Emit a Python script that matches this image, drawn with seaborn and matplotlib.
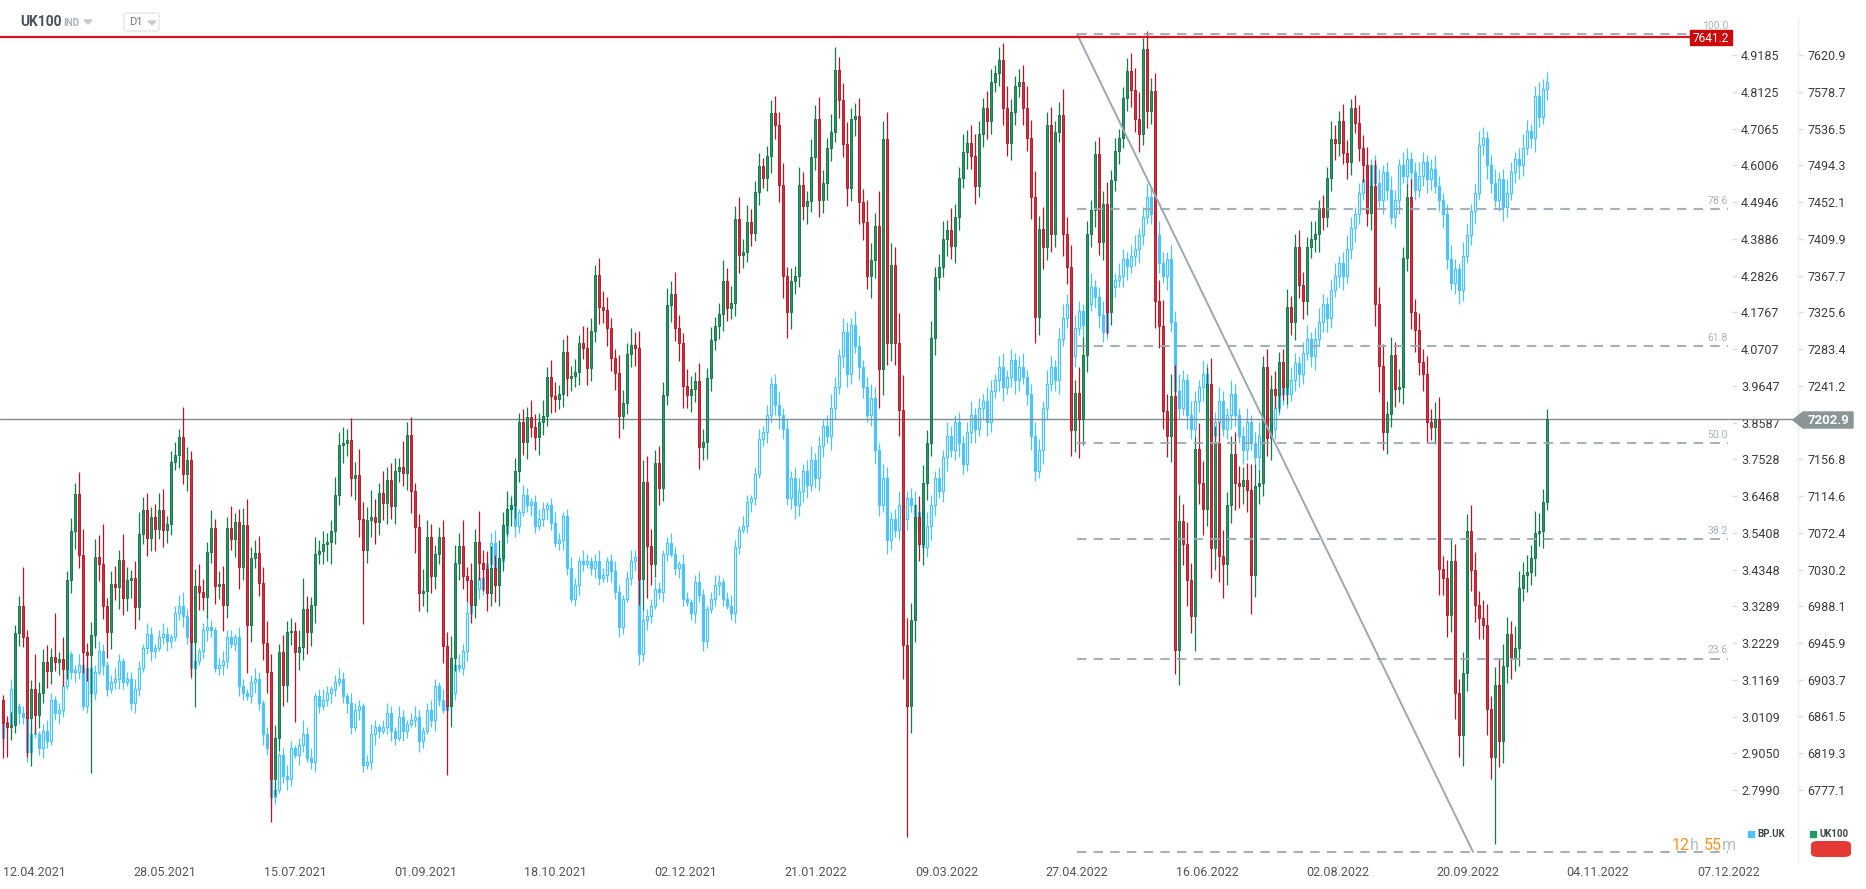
import numpy as np
import pandas as pd
import matplotlib
matplotlib.use("Agg")
import matplotlib.pyplot as plt
import seaborn as sns
from matplotlib.patches import Polygon, Rectangle, FancyBboxPatch

sns.set_theme(style="white")
plt.rcParams["font.family"] = ["Roboto", "DejaVu Sans"]

W, H = 1866, 889

# ---- data (daily candles, open = previous close) ----
uk_first_open = 6881
uk_close = [
    6854, 6850, 6852, 6957, 6988, 6953, 6860, 6893, 6863, 6889,
    6924, 6914, 6930, 6924, 6928, 6916, 7018, 7074, 7117, 7047,
    6936, 6932, 6955, 7045, 7037, 6988, 6959, 7014, 7010, 7041,
    6998, 7018, 7020, 6987, 7071, 7098, 7066, 7090, 7077, 7098,
    7076, 7082, 7154, 7162, 7182, 7140, 7156, 6947, 7011, 7004,
    6999, 7050, 7078, 7011, 7014, 6990, 7078, 7065, 7085, 7033,
    7081, 6967, 7044, 7049, 7015, 6946, 6913, 6790, 6837, 6935,
    6898, 6959, 6960, 6935, 6941, 6985, 6958, 6989, 7048, 7052,
    7060, 7062, 7075, 7116, 7173, 7176, 7179, 7135, 7139, 7088,
    7053, 7087, 7091, 7085, 7118, 7107, 7133, 7103, 7143, 7148,
    7141, 7185, 7120, 7079, 7003, 7006, 7067, 7023, 7048, 7067,
    6943, 6874, 6929, 7038, 7057, 7023, 7018, 6989, 7062, 7038,
    7031, 7003, 7032, 7013, 7044, 7081, 7100, 7104, 7143, 7200,
    7177, 7205, 7194, 7182, 7200, 7207, 7251, 7230, 7226, 7232,
    7280, 7250, 7252, 7257, 7290, 7284, 7262, 7304, 7368, 7332,
    7328, 7307, 7273, 7256, 7206, 7221, 7278, 7288, 7284, 7019,
    7131, 7057, 7037, 7152, 7124, 7231, 7334, 7347, 7308, 7290,
    7241, 7231, 7237, 7247, 7171, 7177, 7250, 7294, 7310, 7324,
    7361, 7330, 7336, 7433, 7391, 7395, 7429, 7417, 7464, 7493,
    7480, 7505, 7554, 7540, 7472, 7367, 7326, 7361, 7367, 7472,
    7447, 7453, 7504, 7548, 7455, 7474, 7514, 7533, 7604, 7569,
    7519, 7468, 7548, 7551, 7452, 7429, 7367, 7385, 7425, 7261,
    7525, 7290, 7380, 7290, 7213, 6944, 6873, 6972, 7090, 7060,
    7130, 7175, 7296, 7366, 7378, 7410, 7420, 7402, 7435, 7480,
    7510, 7520, 7505, 7470, 7530, 7560, 7545, 7590, 7600, 7615,
    7560, 7520, 7555, 7585, 7590, 7560, 7526, 7458, 7320, 7421,
    7400, 7541, 7415, 7533, 7552, 7415, 7378, 7190, 7233, 7203,
    7277, 7415, 7443, 7507, 7406, 7450, 7326, 7477, 7511, 7526,
    7572, 7603, 7581, 7548, 7530, 7628, 7557, 7580, 7338, 7310,
    7212, 7184, 7230, 6938, 7086, 7060, 7018, 6977, 7169, 7130,
    7100, 7243, 7055, 7175, 7046, 7037, 7104, 7163, 7129, 7126,
    7133, 7121, 7024, 7126, 7130, 7263, 7181, 7238, 7231, 7268,
    7240, 7332, 7314, 7400, 7357, 7338, 7400, 7410, 7415, 7445,
    7435, 7480, 7525, 7520, 7545, 7508, 7498, 7560, 7543, 7514,
    7495, 7440, 7470, 7335, 7264, 7188, 7209, 7277, 7237, 7240,
    7388, 7458, 7326, 7305, 7268, 7255, 7200, 7194, 7203, 7031,
    7021, 6978, 7040, 6889, 6840, 6911, 7074, 7030, 6990, 6975,
    6966, 6870, 6815, 6898, 6833, 6920, 6956, 6929, 6940, 7009,
    7024, 7027, 7043, 7072, 7075, 7108, 7202.9,
]
# wick lengths beyond the body, in index points
uk_wick_up = [
    5, 8, 15, 10, 12, 45, 8, 10, 40, 12, 15, 20, 10, 50, 8, 25, 10, 15, 12, 25,
    30, 10, 15, 20, 25, 45, 10, 15, 20, 12, 30, 15, 10, 20, 25, 15, 20, 12, 15, 20,
    25, 10, 12, 15, 10, 35, 15, 10, 20, 25, 15, 12, 20, 10, 15, 20, 12, 25, 10, 15,
    20, 30, 12, 15, 20, 18, 25, 20, 15, 10, 20, 12, 15, 10, 20, 35, 15, 10, 20, 12,
    15, 10, 12, 20, 15, 18, 12, 25, 15, 30, 20, 15, 30, 20, 12, 25, 15, 20, 15, 10,
    30, 15, 20, 10, 15, 25, 20, 15, 10, 12, 20, 15, 25, 20, 15, 30, 10, 20, 15, 35,
    15, 20, 25, 15, 20, 15, 20, 10, 15, 10, 15, 12, 20, 15, 10, 18, 12, 20, 15, 10,
    15, 20, 12, 15, 10, 20, 25, 15, 12, 20, 18, 15, 12, 10, 20, 15, 12, 20, 15, 20,
    25, 30, 20, 15, 20, 15, 20, 15, 25, 15, 12, 20, 15, 10, 20, 15, 12, 15, 10, 12,
    25, 15, 20, 15, 25, 15, 20, 15, 12, 15, 10, 12, 15, 20, 15, 25, 10, 15, 12, 20,
    15, 12, 20, 15, 25, 15, 12, 20, 26, 15, 20, 25, 12, 15, 20, 15, 25, 20, 15, 40,
    20, 30, 25, 20, 35, 40, 30, 20, 15, 25, 20, 15, 20, 12, 15, 20, 12, 25, 15, 12,
    20, 15, 20, 25, 15, 12, 20, 15, 10, 15, 20, 25, 15, 12, 15, 20, 25, 20, 30, 15,
    25, 15, 20, 12, 15, 30, 20, 25, 15, 30, 20, 15, 12, 15, 20, 15, 25, 12, 15, 10,
    12, 15, 20, 25, 30, 13, 20, 15, 20, 25, 30, 20, 25, 35, 30, 20, 25, 20, 15, 30,
    25, 20, 30, 20, 25, 30, 15, 20, 25, 20, 15, 20, 30, 25, 15, 12, 20, 15, 20, 12,
    15, 20, 12, 15, 20, 15, 12, 20, 15, 10, 15, 12, 20, 15, 12, 20, 15, 10, 15, 20,
    15, 20, 25, 30, 20, 25, 15, 20, 15, 20, 12, 15, 20, 15, 20, 15, 20, 15, 20, 25,
    15, 20, 25, 20, 15, 25, 20, 30, 20, 15, 20, 25, 15, 20, 30, 25, 20, 15, 25, 20,
    15, 20, 15, 25, 20, 15, 12,
]
uk_wick_dn = [
    40, 35, 15, 10, 15, 12, 45, 55, 20, 15, 12, 20, 15, 10, 15, 20, 12, 15, 20, 15,
    25, 30, 135, 15, 20, 15, 30, 20, 15, 25, 20, 15, 20, 25, 15, 12, 20, 15, 25, 12,
    20, 15, 12, 10, 15, 12, 20, 40, 75, 20, 15, 25, 12, 20, 15, 30, 15, 12, 20, 25,
    15, 55, 20, 12, 15, 20, 25, 50, 20, 15, 25, 20, 15, 80, 20, 15, 25, 15, 20, 12,
    15, 20, 25, 15, 12, 20, 15, 20, 25, 20, 85, 15, 20, 25, 15, 20, 25, 15, 20, 12,
    15, 20, 25, 30, 20, 15, 25, 20, 15, 12, 20, 80, 25, 15, 20, 15, 25, 20, 15, 20,
    25, 20, 15, 20, 25, 15, 12, 20, 15, 12, 15, 20, 12, 15, 20, 15, 12, 20, 15, 12,
    15, 20, 15, 12, 15, 12, 20, 15, 12, 20, 15, 20, 15, 20, 25, 15, 12, 15, 20, 30,
    35, 60, 25, 15, 20, 15, 12, 20, 15, 20, 25, 15, 20, 15, 25, 15, 20, 15, 12, 15,
    20, 15, 12, 15, 20, 15, 12, 15, 10, 15, 12, 15, 20, 15, 20, 25, 30, 20, 15, 12,
    15, 20, 12, 15, 20, 15, 20, 15, 12, 20, 15, 20, 15, 20, 25, 20, 15, 25, 20, 45,
    30, 25, 20, 25, 30, 40, 150, 30, 25, 20, 25, 20, 15, 20, 15, 12, 20, 15, 20, 15,
    12, 20, 15, 20, 12, 15, 20, 15, 12, 15, 20, 15, 20, 15, 12, 20, 15, 25, 30, 20,
    25, 15, 20, 15, 12, 25, 20, 30, 25, 45, 30, 20, 15, 20, 15, 20, 25, 15, 12, 15,
    12, 15, 20, 15, 20, 12, 20, 15, 30, 25, 20, 25, 30, 28, 40, 25, 30, 20, 40, 25,
    30, 20, 35, 25, 30, 40, 25, 20, 30, 25, 20, 25, 45, 25, 20, 15, 20, 25, 15, 20,
    15, 20, 15, 20, 15, 20, 15, 12, 15, 20, 15, 12, 15, 20, 15, 12, 20, 15, 12, 15,
    20, 15, 20, 25, 30, 20, 25, 15, 20, 15, 20, 15, 20, 25, 15, 20, 25, 15, 20, 30,
    20, 25, 20, 30, 25, 35, 20, 25, 20, 25, 15, 30, 25, 100, 30, 25, 20, 25, 15, 20,
    15, 20, 15, 20, 15, 20, 10,
]

bp_first_open = 2.95
bp_close = [
    2.99, 2.99, 3.09, 3.04, 3.02, 3.01, 2.91, 2.96, 2.96, 2.92,
    2.97, 2.94, 3.06, 3.02, 3.03, 3.10, 3.19, 3.14, 3.14, 3.16,
    3.04, 3.15, 3.08, 3.14, 3.20, 3.16, 3.09, 3.11, 3.12, 3.17,
    3.11, 3.12, 3.05, 3.09, 3.15, 3.21, 3.25, 3.20, 3.21, 3.24,
    3.25, 3.23, 3.24, 3.31, 3.33, 3.30, 3.24, 3.15, 3.17, 3.20,
    3.26, 3.27, 3.26, 3.15, 3.16, 3.17, 3.24, 3.22, 3.24, 3.10,
    3.08, 3.07, 3.11, 3.12, 3.05, 2.96, 2.92, 2.78, 2.80, 2.90,
    2.84, 2.83, 2.92, 2.90, 2.93, 2.96, 2.89, 2.88, 3.07, 3.04,
    3.06, 3.08, 3.09, 3.11, 3.12, 3.07, 3.05, 2.98, 3.03, 3.04,
    2.87, 2.88, 2.96, 2.98, 2.97, 2.98, 3.02, 2.97, 2.95, 3.01,
    2.97, 2.99, 3.00, 3.01, 2.94, 2.97, 3.03, 3.00, 3.10, 3.06,
    3.03, 3.05, 3.08, 3.16, 3.15, 3.20, 3.31, 3.37, 3.38, 3.41,
    3.38, 3.45, 3.51, 3.43, 3.46, 3.54, 3.61, 3.62, 3.56, 3.60,
    3.65, 3.62, 3.63, 3.56, 3.58, 3.61, 3.62, 3.57, 3.51, 3.52,
    3.59, 3.44, 3.35, 3.39, 3.46, 3.45, 3.46, 3.44, 3.46, 3.41,
    3.42, 3.46, 3.43, 3.37, 3.27, 3.35, 3.41, 3.46, 3.47, 3.19,
    3.29, 3.30, 3.33, 3.38, 3.37, 3.48, 3.51, 3.48, 3.44, 3.45,
    3.35, 3.34, 3.31, 3.40, 3.36, 3.23, 3.32, 3.35, 3.39, 3.40,
    3.35, 3.33, 3.31, 3.50, 3.55, 3.56, 3.63, 3.64, 3.71, 3.81,
    3.83, 3.88, 3.97, 3.91, 3.88, 3.84, 3.64, 3.70, 3.62, 3.66,
    3.72, 3.68, 3.75, 3.70, 3.79, 3.85, 3.82, 3.90, 3.96, 4.05,
    4.12, 4.00, 4.14, 4.08, 4.02, 3.96, 3.88, 3.93, 3.78, 3.62,
    3.70, 3.52, 3.58, 3.55, 3.62, 3.58, 3.64, 3.62, 3.55, 3.60,
    3.50, 3.56, 3.62, 3.70, 3.66, 3.76, 3.82, 3.78, 3.86, 3.80,
    3.74, 3.83, 3.88, 3.84, 3.90, 3.92, 3.86, 3.95, 3.98, 4.02,
    3.96, 3.99, 4.04, 3.98, 4.02, 3.99, 3.94, 3.82, 3.72, 3.78,
    3.90, 3.97, 4.02, 3.98, 4.10, 4.16, 4.20, 4.05, 4.13, 4.18,
    4.14, 4.20, 4.25, 4.22, 4.17, 4.12, 4.22, 4.25, 4.27, 4.28,
    4.33, 4.31, 4.34, 4.36, 4.40, 4.45, 4.51, 4.46, 4.40, 4.32,
    4.28, 4.33, 4.15, 3.95, 3.90, 3.98, 3.88, 3.84, 3.92, 3.96,
    4.00, 3.88, 3.82, 3.86, 3.92, 3.84, 3.88, 3.94, 3.88, 3.82,
    3.78, 3.86, 3.80, 3.76, 3.82, 3.88, 3.86, 3.84, 3.90, 3.94,
    3.98, 3.94, 3.98, 4.03, 4.00, 4.06, 4.10, 4.05, 4.10, 4.15,
    4.20, 4.16, 4.24, 4.28, 4.32, 4.28, 4.36, 4.42, 4.46, 4.52,
    4.56, 4.50, 4.60, 4.55, 4.50, 4.58, 4.53, 4.45, 4.50, 4.60,
    4.57, 4.62, 4.58, 4.53, 4.57, 4.61, 4.56, 4.59, 4.54, 4.50,
    4.46, 4.33, 4.26, 4.30, 4.24, 4.34, 4.40, 4.47, 4.52, 4.66,
    4.68, 4.60, 4.55, 4.50, 4.56, 4.48, 4.52, 4.58, 4.62, 4.60,
    4.65, 4.70, 4.68, 4.80, 4.74, 4.82, 4.84,
]
# wick lengths in pence
bp_wick_up = [
    2, 1, 3, 2, 1, 2, 1, 3, 2, 1, 2, 3, 2, 1, 2, 3, 2, 1, 2, 3,
    2, 3, 1, 2, 3, 2, 1, 2, 3, 2, 1, 2, 2, 3, 2, 1, 3, 2, 1, 2,
    3, 2, 1, 2, 3, 4, 2, 3, 2, 1, 2, 3, 2, 1, 2, 3, 2, 2, 1, 3,
    2, 1, 2, 3, 2, 1, 2, 3, 2, 1, 2, 3, 2, 1, 2, 4, 2, 3, 1, 2,
    3, 2, 1, 2, 3, 2, 1, 3, 2, 2, 1, 2, 3, 2, 1, 2, 3, 2, 1, 3,
    2, 1, 2, 3, 2, 1, 2, 3, 2, 1, 3, 2, 1, 2, 3, 2, 3, 2, 4, 2,
    3, 2, 3, 4, 2, 3, 2, 3, 2, 1, 3, 2, 1, 2, 3, 2, 1, 2, 3, 2,
    1, 2, 3, 2, 1, 3, 2, 1, 2, 3, 2, 1, 2, 3, 2, 1, 2, 3, 2, 2,
    3, 2, 2, 3, 2, 1, 2, 3, 2, 1, 3, 2, 1, 2, 3, 2, 1, 2, 3, 2,
    1, 2, 3, 2, 1, 3, 2, 1, 2, 3, 2, 3, 2, 3, 4, 2, 3, 2, 3, 4,
    2, 3, 4, 2, 3, 2, 3, 4, 3, 2, 4, 3, 2, 4, 3, 2, 3, 4, 3, 2,
    4, 3, 2, 3, 4, 3, 2, 3, 4, 2, 3, 4, 3, 2, 3, 2, 4, 3, 2, 3,
    2, 3, 4, 2, 3, 2, 4, 3, 2, 3, 4, 2, 3, 2, 3, 4, 2, 3, 4, 3,
    2, 4, 3, 2, 3, 4, 3, 2, 4, 3, 2, 3, 4, 2, 3, 4, 2, 3, 2, 4,
    3, 2, 3, 4, 2, 3, 4, 3, 2, 4, 3, 2, 4, 3, 5, 3, 2, 4, 3, 2,
    4, 3, 2, 3, 4, 3, 2, 4, 3, 2, 3, 4, 2, 3, 4, 3, 2, 3, 4, 2,
    3, 2, 4, 3, 2, 3, 4, 2, 3, 4, 3, 2, 3, 4, 2, 3, 4, 3, 2, 3,
    4, 3, 2, 3, 4, 2, 3, 4, 3, 2, 4, 3, 2, 3, 4, 3, 2, 3, 4, 3,
    2, 3, 4, 3, 2, 4, 3, 2, 3, 4, 3, 2, 3, 4, 2, 3, 4, 3, 2, 3,
    4, 3, 2, 3, 4, 3, 3,
]
bp_wick_dn = [
    3, 2, 1, 2, 3, 2, 3, 2, 1, 2, 3, 2, 1, 2, 3, 2, 1, 2, 3, 2,
    1, 2, 3, 2, 1, 3, 2, 1, 2, 3, 2, 1, 2, 3, 2, 1, 2, 3, 2, 1,
    2, 3, 2, 1, 2, 3, 2, 3, 2, 1, 2, 3, 2, 1, 2, 3, 2, 1, 2, 3,
    2, 1, 2, 3, 2, 3, 2, 3, 2, 1, 2, 3, 2, 1, 3, 2, 1, 2, 3, 2,
    1, 2, 3, 2, 1, 2, 3, 2, 1, 3, 2, 1, 2, 3, 2, 1, 2, 3, 2, 1,
    3, 2, 1, 2, 3, 2, 1, 2, 3, 2, 1, 2, 3, 2, 1, 2, 3, 2, 2, 3,
    2, 3, 2, 3, 4, 2, 3, 2, 3, 2, 1, 2, 3, 2, 1, 2, 3, 2, 1, 2,
    3, 2, 1, 2, 3, 2, 1, 2, 3, 2, 1, 2, 3, 2, 3, 2, 1, 2, 3, 3,
    2, 3, 2, 1, 2, 3, 2, 1, 2, 3, 2, 1, 2, 3, 2, 3, 2, 1, 2, 3,
    2, 1, 2, 3, 2, 1, 2, 3, 2, 1, 2, 3, 2, 3, 4, 3, 2, 3, 4, 3,
    3, 4, 2, 3, 4, 3, 2, 4, 3, 2, 3, 4, 3, 2, 4, 3, 2, 3, 4, 3,
    2, 4, 3, 2, 3, 4, 3, 2, 3, 4, 2, 3, 4, 3, 2, 3, 4, 2, 3, 4,
    3, 2, 3, 4, 2, 3, 4, 3, 2, 3, 4, 2, 3, 4, 3, 2, 3, 4, 3, 2,
    4, 3, 2, 3, 4, 2, 3, 4, 3, 2, 4, 3, 2, 3, 4, 3, 2, 4, 3, 2,
    3, 4, 2, 3, 4, 3, 2, 3, 4, 3, 2, 4, 3, 5, 3, 2, 4, 3, 2, 3,
    4, 3, 2, 3, 4, 2, 3, 4, 3, 2, 4, 3, 2, 3, 4, 3, 2, 4, 3, 2,
    3, 4, 2, 3, 4, 3, 2, 3, 4, 2, 3, 4, 3, 2, 3, 4, 2, 3, 4, 3,
    2, 3, 4, 3, 2, 4, 3, 2, 3, 4, 2, 3, 4, 3, 2, 3, 4, 3, 2, 3,
    4, 3, 2, 3, 4, 3, 2, 3, 4, 2, 3, 4, 3, 2, 3, 4, 3, 2, 3, 4,
    3, 2, 3, 4, 3, 2, 3,
]

date_labels = ["12.04.2021", "28.05.2021", "15.07.2021", "01.09.2021", "18.10.2021",
               "02.12.2021", "21.01.2022", "09.03.2022", "27.04.2022", "16.06.2022",
               "02.08.2022", "20.09.2022", "04.11.2022", "07.12.2022"]
uk_ticks = [7620.9, 7578.7, 7536.5, 7494.3, 7452.1, 7409.9, 7367.7, 7325.6, 7283.4, 7241.2,
            7156.8, 7114.6, 7072.4, 7030.2, 6988.1, 6945.9, 6903.7, 6861.5, 6819.3, 6777.1]
bp_ticks = [4.9185, 4.8125, 4.7065, 4.6006, 4.4946, 4.3886, 4.2826, 4.1767, 4.0707, 3.9647,
            3.8587, 3.7528, 3.6468, 3.5408, 3.4348, 3.3289, 3.2229, 3.1169, 3.0109, 2.9050, 2.7990]
fib_levels = [0.0, 23.6, 38.2, 50.0, 61.8, 78.6, 100.0]
fib_low, fib_high = 6706, 7645
last_price = 7202.9
resistance = 7641.2

# ---- build frame ----
df = pd.DataFrame({
    "bar": np.arange(len(uk_close)),
    "uk_open": [uk_first_open] + uk_close[:-1],
    "uk_close": uk_close,
    "bp_open": [bp_first_open] + bp_close[:-1],
    "bp_close": bp_close,
})
df["uk_high"] = df[["uk_open", "uk_close"]].max(axis=1) + np.array(uk_wick_up)
df["uk_low"] = df[["uk_open", "uk_close"]].min(axis=1) - np.array(uk_wick_dn)
df["bp_high"] = df[["bp_open", "bp_close"]].max(axis=1) + np.array(bp_wick_up) / 100
df["bp_low"] = df[["bp_open", "bp_close"]].min(axis=1) - np.array(bp_wick_dn) / 100

fig = plt.figure(figsize=(W / 100, H / 100), dpi=100)
fig.patch.set_facecolor("white")


def fx(x):
    return x / W


def fy(y):
    return 1 - y / H


ax = fig.add_axes([0, fy(863), fx(1732), (863 - 18) / H])
ax2 = ax.twinx()
ax.set_zorder(ax2.get_zorder() + 1)
ax.patch.set_visible(False)

X0, X1 = -0.75, 432.25
ax.set_xlim(X0, X1)
ax.set_ylim(6693.3, 7663.4)
ax2.set_ylim(2.5886, 5.0252)

# ---- BP.UK candles (hollow up, filled down) ----
blue = "#4fc3f7"
bp_up = df["bp_close"] >= df["bp_open"]
ax2.vlines(df["bar"], df["bp_low"], df["bp_high"], colors=blue, lw=0.9, zorder=2)
ax2.bar(df["bar"], (df["bp_close"] - df["bp_open"]).abs().clip(lower=0.004),
        bottom=df[["bp_open", "bp_close"]].min(axis=1), width=0.66,
        color=np.where(bp_up, "white", blue), edgecolor=blue, linewidth=0.9, zorder=3)

# ---- UK100 candles ----
uk_up = df["uk_close"] >= df["uk_open"]
ax.plot([X0, 447.5], [last_price, last_price], color="#7f8b8d", lw=1.0, zorder=1, clip_on=False)
ax.vlines(df["bar"], df["uk_low"], df["uk_high"],
          colors=np.where(uk_up, "#137a4a", "#b3172a"), lw=0.9, zorder=3)
ax.bar(df["bar"], (df["uk_close"] - df["uk_open"]).abs().clip(lower=1.2),
       bottom=df[["uk_open", "uk_close"]].min(axis=1), width=0.72,
       color=np.where(uk_up, "#1f9c63", "#ea2438"),
       edgecolor=np.where(uk_up, "#0f6b40", "#a8121f"), linewidth=0.6, zorder=4)

# ---- fibonacci retracement ----
for lv in fib_levels:
    p = fib_low + (fib_high - fib_low) * lv / 100
    ax.plot([268.5, 431.25], [p, p], ls=(0, (4.5, 3.5)), lw=1.5, color="#9ba8b1",
            alpha=0.9, zorder=6, clip_on=False)
    if lv > 0:
        ax.annotate(f"{lv:.1f}", (431.25, p), xytext=(0, 2.5), textcoords="offset points",
                    ha="right", va="bottom", fontsize=7.5, color="#a7b2bb", zorder=6,
                    annotation_clip=False)
sns.lineplot(x=[268.5, 367.5], y=[fib_high, fib_low], ax=ax, color="#9ba8b1", lw=1.4, zorder=6)

ax.plot([X0, 421.75], [resistance, resistance], color="#d5141d", lw=1.6, zorder=7, clip_on=False)

# ---- axes styling ----
for s in ["left", "top", "bottom"]:
    ax.spines[s].set_visible(False)
for s in ax2.spines.values():
    s.set_visible(False)
ax.yaxis.tick_right()
ax.spines["right"].set_position(("outward", 66 * 0.72))
ax.spines["right"].set_color("#eceef0")
ax.spines["right"].set_linewidth(1)
ax.set_yticks(uk_ticks)
ax.set_yticklabels([f"{v:.1f}" for v in uk_ticks])
ax.tick_params(axis="y", right=True, left=False, direction="out", length=3.6, width=1,
               colors="#d8dde1", labelcolor="#3c3c3c", labelsize=9, pad=3)
ax2.set_yticks(bp_ticks)
ax2.set_yticklabels([f"{v:.4f}" for v in bp_ticks])
ax2.tick_params(axis="y", right=True, direction="out", length=3.6, width=1,
                colors="#d8dde1", labelcolor="#3c3c3c", labelsize=9, pad=3)
ax.set_xticks([k * 32.575 for k in range(len(date_labels))])
ax.set_xticklabels(date_labels, ha="left")
ax.tick_params(axis="x", bottom=True, length=0, pad=2, labelsize=9, labelcolor="#555555")
ax.grid(False)
ax2.grid(False)
ax.set_xlabel("")
ax.set_ylabel("")

# ---- price tags ----
fig.add_artist(Rectangle((fx(1690), fy(45)), fx(42), 15 / H, transform=fig.transFigure,
                         color="#cc0a0a", zorder=10))
fig.text(fx(1711), fy(38), "7641.2", color="white", fontsize=8.5, ha="center", va="center", zorder=11)
fig.add_artist(Polygon([(fx(1793), fy(420)), (fx(1803), fy(412)), (fx(1853), fy(412)),
                        (fx(1853), fy(428)), (fx(1803), fy(428))], closed=True,
                       transform=fig.transFigure, color="#8a9597", zorder=10))
fig.text(fx(1829), fy(420), "7202.9", color="white", fontsize=9.5, fontweight="bold",
         ha="center", va="center", zorder=11)

# ---- header ----
fig.text(fx(20), fy(22), "UK100", fontsize=10, fontweight="bold", color="#46505a", va="center")
fig.text(fx(63), fy(22.5), "IND", fontsize=7, fontweight="bold", color="#a8b2bb", va="center")
fig.add_artist(Polygon([(fx(84), fy(20)), (fx(92), fy(20)), (fx(88), fy(24))], closed=True,
                       transform=fig.transFigure, color="#c3cad0"))
fig.add_artist(FancyBboxPatch((fx(124), fy(31)), fx(35), 18 / H,
                              boxstyle="round,pad=0,rounding_size=0.002",
                              transform=fig.transFigure, fc="white", ec="#e2e5e8", lw=1))
fig.text(fx(129), fy(22), "D1", fontsize=8, color="#6d767e", va="center")
fig.add_artist(Polygon([(fx(148), fy(21)), (fx(156), fy(21)), (fx(152), fy(25))], closed=True,
                       transform=fig.transFigure, color="#c3cad0"))

# ---- legend ----
fig.add_artist(Rectangle((fx(1748), fy(837)), fx(6), 6 / H, transform=fig.transFigure, color=blue))
fig.text(fx(1757), fy(834), "BP.UK", fontsize=7, fontweight="bold", color="#3c4650", va="center")
fig.add_artist(Rectangle((fx(1810), fy(837)), fx(6), 6 / H, transform=fig.transFigure, color="#1f9c63"))
fig.text(fx(1819), fy(834), "UK100", fontsize=7, fontweight="bold", color="#3c4650", va="center")
fig.add_artist(FancyBboxPatch((fx(1811), fy(857)), fx(40), 16 / H,
                              boxstyle="round,pad=0,rounding_size=0.004",
                              transform=fig.transFigure, fc="#e53935", ec="none"))

# ---- countdown (sits where the 0.0 fib label would be) ----
renderer = fig.canvas.get_renderer()
xcur = 1672
for txt, col, gap in [("12", "#f7941d", 0), ("h", "#b5bdc3", 5), ("55", "#f7941d", 0), ("m", "#b5bdc3", 0)]:
    t = fig.text(fx(xcur), fy(845), txt, color=col, fontsize=11.5, ha="left", va="center", zorder=12)
    xcur += t.get_window_extent(renderer).width + gap

fig.savefig("out.png", dpi=100)
